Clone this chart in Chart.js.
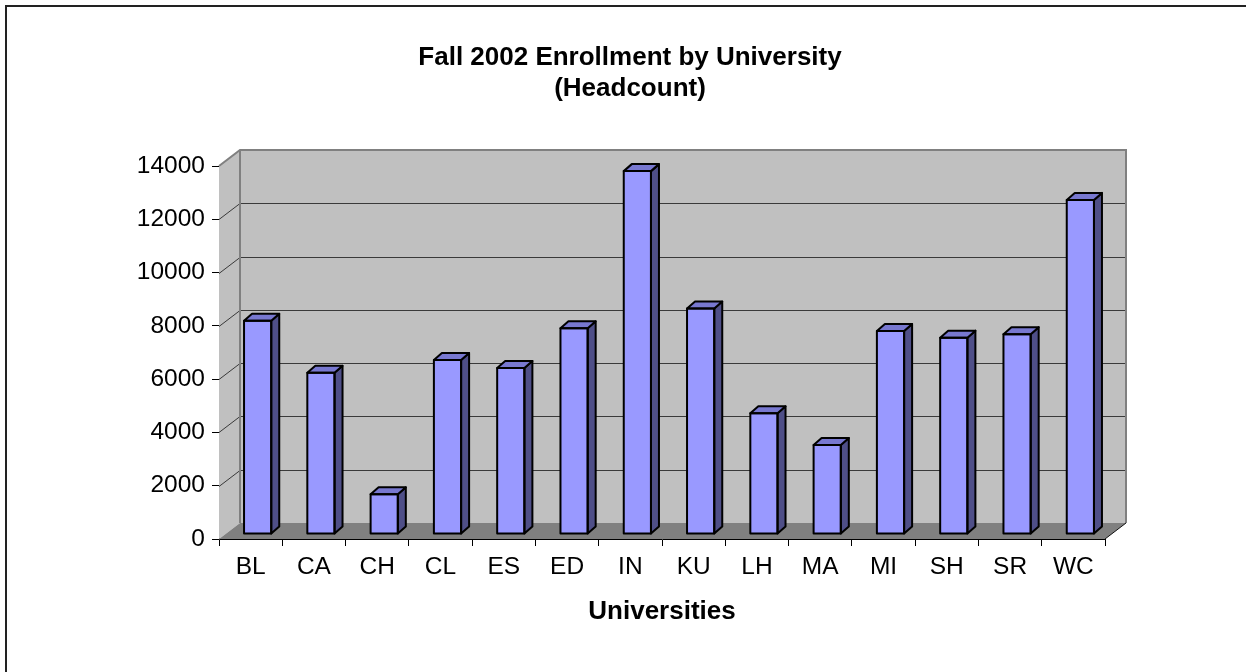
<!DOCTYPE html>
<html>
<head>
<meta charset="utf-8">
<title>Fall 2002 Enrollment by University</title>
<script src="https://cdn.jsdelivr.net/npm/chart.js@4.4.1/dist/chart.umd.min.js"></script>
<style>
  html, body { margin: 0; padding: 0; background: #fff; }
  #wrap { width: 1246px; height: 672px; }
</style>
</head>
<body>
<div id="wrap"><canvas id="enrollChart" width="1246" height="672"></canvas></div>
<script>
// data
const categories = ['BL', 'CA', 'CH', 'CL', 'ES', 'ED', 'IN', 'KU', 'LH', 'MA', 'MI', 'SH', 'SR', 'WC'];
const enrollment = [8000, 6050, 1490, 6530, 6230, 7720, 13620, 8460, 4530, 3340, 7620, 7370, 7500, 12540];
const yTickValues = [0, 2000, 4000, 6000, 8000, 10000, 12000, 14000];

const FONT = '"Liberation Sans", Arial, sans-serif';

// 3d look: wall depth and bar depth (pixels)
const wallDx = 21, wallDy = -16;
const barShiftX = 7, barShiftY = -5;
const barDx = 8, barDy = -7;

const frame = {
    id: 'frame',
    beforeDraw(chart) {
        const ctx = chart.ctx;
        ctx.save();
        ctx.strokeStyle = '#222';
        ctx.lineWidth = 2;
        ctx.strokeRect(6, 6, chart.width + 20, chart.height + 20);
        ctx.restore();
    }
};

const walls = {
    id: 'walls',
    beforeDatasetsDraw(chart) {
        const ctx = chart.ctx;
        const y = chart.scales.y;
        const L = chart.chartArea.left, R = chart.chartArea.right;
        const T = y.getPixelForValue(yTickValues[yTickValues.length - 1]);
        const B = y.getPixelForValue(0);

        ctx.save();
        // side wall
        ctx.fillStyle = '#c0c0c0';
        ctx.beginPath();
        ctx.moveTo(L, T); ctx.lineTo(L + wallDx, T + wallDy);
        ctx.lineTo(L + wallDx, B + wallDy); ctx.lineTo(L, B);
        ctx.closePath(); ctx.fill();
        // back wall
        ctx.fillRect(L + wallDx, T + wallDy, R - L, B - T);
        // floor
        ctx.fillStyle = '#808080';
        ctx.beginPath();
        ctx.moveTo(L, B); ctx.lineTo(L + wallDx, B + wallDy);
        ctx.lineTo(R + wallDx, B + wallDy); ctx.lineTo(R, B);
        ctx.closePath(); ctx.fill();

        // gridlines
        ctx.strokeStyle = '#3a3a3a';
        ctx.lineWidth = 1;
        yTickValues.slice(1, -1).forEach(v => {
            const py = Math.round(y.getPixelForValue(v)) + 0.5;
            ctx.beginPath();
            ctx.moveTo(L, py);
            ctx.lineTo(L + wallDx, py + wallDy);
            ctx.lineTo(R + wallDx, py + wallDy);
            ctx.stroke();
        });

        // wall edges
        ctx.strokeStyle = '#808080';
        ctx.lineWidth = 2;
        ctx.beginPath();
        ctx.moveTo(L, T); ctx.lineTo(L + wallDx, T + wallDy);
        ctx.lineTo(R + wallDx, T + wallDy); ctx.lineTo(R + wallDx, B + wallDy);
        ctx.moveTo(L + wallDx, T + wallDy); ctx.lineTo(L + wallDx, B + wallDy);
        ctx.stroke();
        ctx.strokeStyle = '#111';
        ctx.lineWidth = 1;
        ctx.beginPath();
        ctx.moveTo(R, B); ctx.lineTo(R + wallDx, B + wallDy);
        ctx.stroke();
        ctx.restore();

        // bars sit in the middle of the floor
        ctx.save();
        ctx.translate(barShiftX, barShiftY);
    },
    afterDatasetsDraw(chart) {
        const ctx = chart.ctx;
        const meta = chart.getDatasetMeta(0);
        ctx.lineWidth = 2;
        ctx.strokeStyle = '#000';
        ctx.lineJoin = 'round';
        meta.data.forEach(bar => {
            const p = bar.getProps(['x', 'y', 'base', 'width'], true);
            const xl = p.x - p.width / 2, xr = p.x + p.width / 2;
            // side
            ctx.fillStyle = '#4f4f88';
            ctx.beginPath();
            ctx.moveTo(xr, p.y); ctx.lineTo(xr + barDx, p.y + barDy);
            ctx.lineTo(xr + barDx, p.base + barDy); ctx.lineTo(xr, p.base);
            ctx.closePath(); ctx.fill(); ctx.stroke();
            // top
            ctx.fillStyle = '#7878d0';
            ctx.beginPath();
            ctx.moveTo(xl, p.y); ctx.lineTo(xl + barDx, p.y + barDy);
            ctx.lineTo(xr + barDx, p.y + barDy); ctx.lineTo(xr, p.y);
            ctx.closePath(); ctx.fill(); ctx.stroke();
            // front outline
            ctx.strokeRect(xl, p.y, p.width, p.base - p.y);
        });
        ctx.restore();
    }
};

const ctx = document.getElementById('enrollChart').getContext('2d');
new Chart(ctx, {
    type: 'bar',
    data: {
        labels: categories,
        datasets: [{
            label: 'Headcount',
            data: enrollment,
            backgroundColor: '#9999ff',
            borderColor: '#000',
            borderWidth: 0,
            categoryPercentage: 1,
            barPercentage: 0.43,
            clip: false
        }]
    },
    options: {
        responsive: false,
        animation: false,
        events: [],
        layout: { padding: { left: 14, right: 0, top: 0, bottom: 0 } },
        plugins: {
            legend: { display: false },
            tooltip: { enabled: false },
            title: {
                display: true,
                text: ['Fall 2002 Enrollment by University', '(Headcount)'],
                color: '#000',
                font: { family: FONT, size: 26, weight: 'bold', lineHeight: 1.2 },
                padding: { top: 42, bottom: 61.6 }
            }
        },
        scales: {
            x: {
                afterFit(scale) { scale.height = 133; },
                grid: {
                    offset: true,
                    drawOnChartArea: false,
                    drawTicks: true,
                    tickLength: 7,
                    color: '#000'
                },
                border: { display: true, color: '#000', width: 1 },
                ticks: {
                    color: '#000',
                    padding: 7,
                    font: { family: FONT, size: 24.5 }
                },
                title: {
                    display: true,
                    text: 'Universities',
                    color: '#000',
                    font: { family: FONT, size: 26, weight: 'bold', lineHeight: 1.2 },
                    padding: { top: 0, bottom: 45 }
                }
            },
            y: {
                min: 0,
                max: 14000,
                afterFit(scale) { scale.width = 205; },
                afterBuildTicks(scale) {
                    scale.ticks = yTickValues.map(v => ({ value: v }));
                },
                grid: {
                    drawOnChartArea: false,
                    drawTicks: true,
                    tickLength: 7,
                    color: '#000'
                },
                border: { display: true, color: '#333', width: 1 },
                ticks: {
                    color: '#000',
                    padding: 7,
                    font: { family: FONT, size: 24.5 },
                    callback: value => String(value)
                }
            },
            // empty right-hand box so the plot ends where the reference does
            yRight: {
                position: 'right',
                min: 0,
                max: 14000,
                afterFit(scale) { scale.width = 141; },
                grid: { display: false },
                border: { display: false },
                ticks: { display: false }
            }
        }
    },
    plugins: [frame, walls]
});
</script>
</body>
</html>
